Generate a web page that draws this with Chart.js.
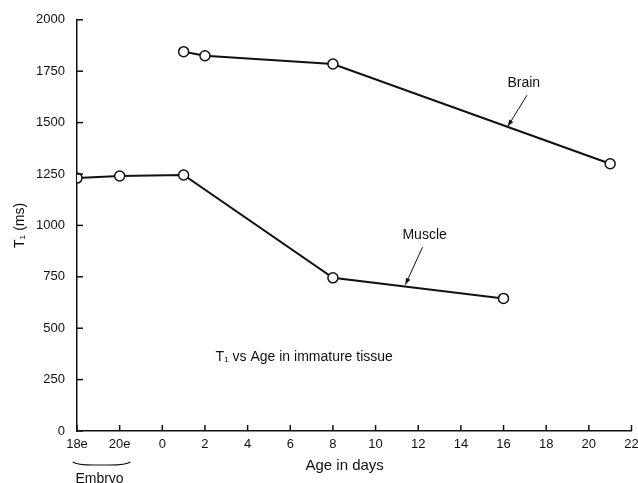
<!DOCTYPE html>
<html>
<head>
<meta charset="utf-8">
<script src="https://cdn.jsdelivr.net/npm/chart.js@4.4.0/dist/chart.umd.min.js"></script>
<style>
  body { margin: 0; background: #fff; }
  #wrap { width: 638px; height: 483px; }
</style>
</head>
<body>
<div id="wrap"><canvas id="t1Chart"></canvas></div>
<script>
    // x positions: embryo days 18e, 20e sit at -4 and -2 before birth (0)
    var tickValues = [-4, -2, 0, 2, 4, 6, 8, 10, 12, 14, 16, 18, 20, 22];
    var tickLabels = ['18e', '20e', '0', '2', '4', '6', '8', '10', '12', '14', '16', '18', '20', '22'];
    var yTicks = [0, 250, 500, 750, 1000, 1250, 1500, 1750, 2000];

    var brainAge = [1, 2, 8, 21];
    var brainT1 = [1845, 1825, 1785, 1300];
    var muscleAge = [-4, -2, 1, 8, 16];
    var muscleT1 = [1230, 1240, 1245, 745, 645];

    function toPoints(xs, ys) {
        return xs.map(function(x, i) { return { x: x, y: ys[i] }; });
    }

    var ink = '#111';
    var font = '"Liberation Sans", Arial, sans-serif';

    function arrow(ctx, x1, y1, x2, y2) {
        ctx.beginPath();
        ctx.moveTo(x1, y1);
        ctx.lineTo(x2, y2);
        ctx.stroke();
        var a = Math.atan2(y2 - y1, x2 - x1);
        ctx.beginPath();
        ctx.moveTo(x2, y2);
        ctx.lineTo(x2 - 7 * Math.cos(a - 0.35), y2 - 7 * Math.sin(a - 0.35));
        ctx.lineTo(x2 - 7 * Math.cos(a + 0.35), y2 - 7 * Math.sin(a + 0.35));
        ctx.closePath();
        ctx.fill();
    }

    var extras = {
        id: 'extras',
        afterDraw: function(chart) {
            var ctx = chart.ctx;
            var xs = chart.scales.x, ys = chart.scales.y;
            var area = chart.chartArea;
            ctx.save();
            ctx.strokeStyle = ink;
            ctx.fillStyle = ink;
            ctx.lineWidth = 1.5;

            // inward ticks
            yTicks.forEach(function(v) {
                var py = ys.getPixelForValue(v);
                ctx.beginPath();
                ctx.moveTo(area.left, py);
                ctx.lineTo(area.left + 6, py);
                ctx.stroke();
            });
            tickValues.forEach(function(v) {
                var px = xs.getPixelForValue(v);
                ctx.beginPath();
                ctx.moveTo(px, area.bottom);
                ctx.lineTo(px, area.bottom - 6);
                ctx.stroke();
            });

            // labels and arrows
            ctx.font = '14px ' + font;
            ctx.textAlign = 'center';
            ctx.textBaseline = 'middle';
            ctx.fillText('Brain', xs.getPixelForValue(16.95), ys.getPixelForValue(1690));
            ctx.fillText('Muscle', xs.getPixelForValue(12.3), ys.getPixelForValue(955));
            ctx.lineWidth = 1;
            arrow(ctx, xs.getPixelForValue(17.1), ys.getPixelForValue(1633),
                xs.getPixelForValue(16.2), ys.getPixelForValue(1482));
            arrow(ctx, xs.getPixelForValue(12.2), ys.getPixelForValue(894),
                xs.getPixelForValue(11.4), ys.getPixelForValue(712));

            ctx.fillText('T\u2081 vs Age in immature tissue', xs.getPixelForValue(6.65), ys.getPixelForValue(357));

            // x title and embryo brace
            ctx.font = '15px ' + font;
            ctx.fillText('Age in days', xs.getPixelForValue(8.55), 466);
            ctx.font = '14px ' + font;
            var bx1 = xs.getPixelForValue(-4.2), bx2 = xs.getPixelForValue(-1.5);
            var mid = (bx1 + bx2) / 2;
            ctx.lineWidth = 1.2;
            ctx.beginPath();
            ctx.moveTo(bx1, 462);
            ctx.quadraticCurveTo(bx1 + 4, 465, mid - 8, 465);
            ctx.quadraticCurveTo(mid, 465, mid + 8, 465);
            ctx.quadraticCurveTo(bx2 - 4, 465, bx2, 462);
            ctx.stroke();
            ctx.fillText('Embryo', mid - 2, 479);
            ctx.restore();
        }
    };

    var lineStyle = {
        borderColor: ink,
        borderWidth: 2,
        pointRadius: 5,
        pointBorderWidth: 1.5,
        pointBackgroundColor: '#fff',
        pointBorderColor: ink,
        tension: 0,
        fill: false
    };

    var ctx = document.getElementById('t1Chart').getContext('2d');
    var t1Chart = new Chart(ctx, {
        type: 'scatter',
        data: {
            datasets: [
                Object.assign({ label: 'Brain', data: toPoints(brainAge, brainT1), showLine: true }, lineStyle),
                Object.assign({ label: 'Muscle', data: toPoints(muscleAge, muscleT1), showLine: true }, lineStyle)
            ]
        },
        options: {
            responsive: true,
            maintainAspectRatio: false,
            animation: false,
            layout: { padding: { left: 0, right: 3, top: 17, bottom: 0 } },
            scales: {
                x: {
                    type: 'linear',
                    min: -4,
                    max: 22,
                    afterBuildTicks: function(scale) {
                        scale.ticks = tickValues.map(function(v) { return { value: v }; });
                    },
                    afterFit: function(scale) {
                        scale.height = 52;
                        scale.paddingLeft = 0;
                        scale.paddingRight = 0;
                    },
                    grid: { display: false, drawTicks: false },
                    border: { display: true, color: ink, width: 1.5 },
                    ticks: {
                        color: ink,
                        padding: 6,
                        maxRotation: 0,
                        autoSkip: false,
                        font: { size: 13, family: font },
                        callback: function(v) {
                            var i = tickValues.indexOf(v);
                            return i >= 0 ? tickLabels[i] : '';
                        }
                    }
                },
                y: {
                    min: 0,
                    max: 2000,
                    afterBuildTicks: function(scale) {
                        scale.ticks = yTicks.map(function(v) { return { value: v }; });
                    },
                    afterFit: function(scale) { scale.width = 77; },
                    grid: { display: false, drawTicks: false },
                    border: { display: true, color: ink, width: 1.5 },
                    title: {
                        display: true,
                        text: 'T\u2081 (ms)',
                        color: ink,
                        padding: { top: 12, bottom: 0 },
                        font: { size: 14, family: font }
                    },
                    ticks: {
                        color: ink,
                        padding: 12,
                        font: { size: 13, family: font },
                        callback: function(v) { return String(v); }
                    }
                }
            },
            plugins: {
                legend: { display: false },
                tooltip: { enabled: false }
            }
        },
        plugins: [extras]
    });
</script>
</body>
</html>
